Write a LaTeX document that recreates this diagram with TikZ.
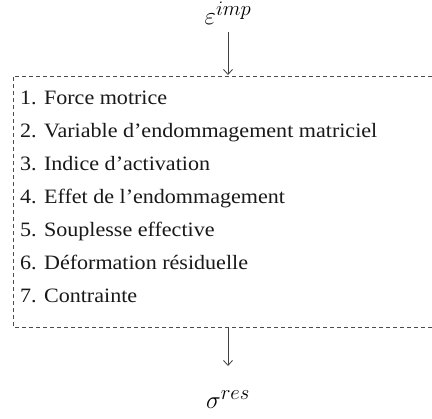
\documentclass[tikz,border=0pt]{standalone}
\usepackage{fontspec}
\setmainfont{Liberation Serif}
\newfontfamily\itemfont[FakeStretch=1.08]{Liberation Serif}
\usetikzlibrary{arrows.meta}
\begin{document}
\begin{tikzpicture}[x=1bp,y=-1bp,
  item/.style={anchor=base west,inner sep=0pt,text=black!90,font=\itemfont\fontsize{20.5}{24}\selectfont},
  lab/.style={inner sep=0pt,font=\fontsize{28}{32}\selectfont},
  conn/.style={draw=black!75,line width=0.8bp,-{Straight Barb[length=5bp,width=9bp]}},
  box/.style={draw=black!70,line width=0.8bp,dash pattern=on 4bp off 3bp}]
\useasboundingbox (0,0) rectangle (432,419);
\fill[white] (0,0) rectangle (432,419);
\node[lab] (eps) at (228,13) {$\varepsilon^{imp}$};
\node[lab] (sig) at (228,400) {$\sigma^{res}$};
\coordinate (topstart) at (228,32);
\coordinate (topin) at (228,75);
\coordinate (botout) at (228,327);
\coordinate (arrbot) at (228,366);
\draw[box] (432,76) -- (13,76) -- (13,327) -- (432,327);
\draw[conn] (topstart) -- (topin);
\draw[conn] (botout) -- (arrbot);
\node[item] (l1) at (20,104) {1. Force motrice};
\node[item] (l2) at (20,137) {2. Variable d’endommagement matriciel};
\node[item] (l3) at (20,170) {3. Indice d’activation};
\node[item] (l4) at (20,203) {4. Effet de l’endommagement};
\node[item] (l5) at (20,236) {5. Souplesse effective};
\node[item] (l6) at (20,269) {6. Déformation résiduelle};
\node[item] (l7) at (20,302) {7. Contrainte};
\end{tikzpicture}
\end{document}
